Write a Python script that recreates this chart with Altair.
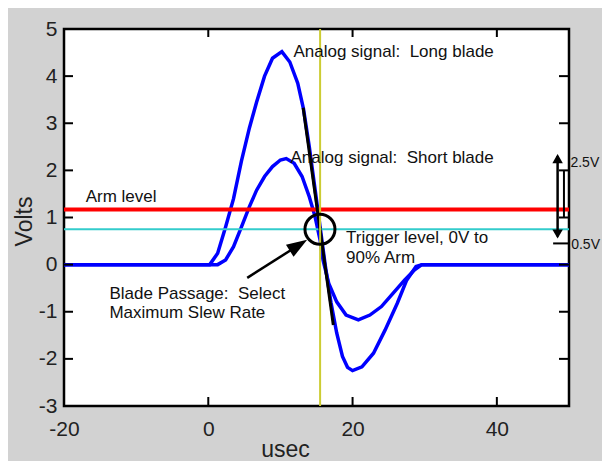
import altair as alt
import pandas as pd

# ---- data ----
long_x = [-20, 0.2, 1.3, 2.4, 3.5, 4.6, 5.7, 6.7, 7.8, 8.9, 10.2, 11.3, 12.4, 13.2, 14.0, 14.8,
          15.5, 16.2, 17.0, 17.8, 18.6, 19.3, 20.0, 21.3, 22.9, 24.5, 26.2, 27.5, 28.8, 29.6, 50]
long_y = [0, 0, 0.24, 0.80, 1.40, 2.20, 2.90, 3.45, 4.00, 4.38, 4.52, 4.30, 3.85, 3.30, 2.50, 1.60,
          0.80, 0.00, -0.80, -1.45, -1.95, -2.18, -2.25, -2.17, -1.88, -1.39, -0.82, -0.33, -0.04, 0, 0]
short_x = [-20, 1.3, 2.4, 3.5, 4.6, 5.7, 6.7, 7.8, 8.9, 10.0, 10.8, 11.9, 13.0, 14.0, 14.8, 15.5,
           15.9, 16.7, 17.8, 19.1, 20.8, 22.4, 24.0, 25.6, 27.2, 28.6, 29.6, 50]
short_y = [0, 0, 0.10, 0.38, 0.80, 1.23, 1.58, 1.87, 2.08, 2.22, 2.25, 2.15, 1.87, 1.44, 1.02, 0.52,
           0.10, -0.40, -0.79, -1.07, -1.17, -1.07, -0.89, -0.61, -0.33, -0.11, 0, 0]

x_ticks = [-20, 0, 20, 40]
y_ticks = [-3, -2, -1, 0, 1, 2, 3, 4, 5]

arm_level = [1.17]
trigger_level = [0.75]
trigger_time = [15.5]

tangent_x = [13.15, 17.33]
tangent_y = [3.33, -1.28]

circle_x = [15.48]
circle_y = [0.75]

arrow_x = [5.4, 12.5]
arrow_y = [-0.28, 0.41]
arrow_head_x = [12.5]
arrow_head_y = [0.41]

labels = ["Analog signal:\u00a0 Long blade", "Analog signal:\u00a0 Short blade", "Arm level",
          "Trigger level, 0V to", "90% Arm", "Blade Passage:\u00a0 Select", "Maximum Slew Rate"]
label_x = [11.8, 11.4, -17.0, 19.1, 19.1, -13.7, -13.7]
label_y = [4.51, 2.27, 1.44, 0.56, 0.13, -0.62, -1.03]

side_labels = ["2.5V", "0.5V"]
side_x = [50.2, 50.3]
side_y = [2.15, 0.42]

span_x = [48.42]
span_top = [2.3]
span_bottom = [0.6]
span_head_y_up = [2.25]
span_head_y_down = [0.65]
bracket_x = [49.3]
bracket_top = [2.0]
bracket_bottom = [1.0]
foot_x = [47.8]
foot_x2 = [49.9]
foot_y = [0.45]

# ---- tables ----
curves = pd.concat([
    pd.DataFrame({"x": long_x, "y": long_y, "s": "long"}),
    pd.DataFrame({"x": short_x, "y": short_y, "s": "short"}),
])

xs = alt.Scale(domain=[-20, 50], nice=False, zero=False)
ys = alt.Scale(domain=[-3, 5], nice=False, zero=False)

FONT = "Liberation Sans"
HYPHEN = "replace(datum.label, '\u2212', '-')"

x_axis = alt.Axis(values=x_ticks, title="usec", labelFontSize=21, labelPadding=12,
                  ticks=False, domain=False, grid=False, labelColor="#222", labelFlush=False,
                  labelExpr=HYPHEN,
                  titleFontSize=23, titleFontWeight="normal", titleColor="#222",
                  titleX=221, titleY=50, titleBaseline="alphabetic", titleAlign="center",
                  labelFont=FONT, titleFont=FONT)
y_axis = alt.Axis(values=y_ticks, title="Volts", labelFontSize=21, labelPadding=7,
                  ticks=False, domain=False, grid=False, labelColor="#222", labelFlush=False,
                  labelExpr=HYPHEN,
                  titleFontSize=23, titleFontWeight="normal", titleColor="#222",
                  titleX=-33, titleY=192, titleBaseline="alphabetic", titleAlign="center",
                  titleAngle=270, labelFont=FONT, titleFont=FONT)


def X(field="x"):
    return alt.X(field + ":Q", scale=xs, axis=x_axis)


def Y(field="y"):
    return alt.Y(field + ":Q", scale=ys, axis=y_axis)


lines = alt.Chart(curves).mark_line(color="#0000ff", strokeWidth=3.5).encode(
    x=X(), y=Y(), detail="s:N")

cyan = alt.Chart(pd.DataFrame({"y": trigger_level})).mark_rule(color="#33cccc", strokeWidth=2).encode(y=Y())
red = alt.Chart(pd.DataFrame({"y": arm_level})).mark_rule(color="#ff0000", strokeWidth=4).encode(y=Y())
yellow = alt.Chart(pd.DataFrame({"x": trigger_time})).mark_rule(color="#cccc33", strokeWidth=2).encode(x=X())

tangent = alt.Chart(pd.DataFrame({"x": tangent_x, "y": tangent_y})).mark_line(
    color="black", strokeWidth=3).encode(x=X(), y=Y())

circle = alt.Chart(pd.DataFrame({"x": circle_x, "y": circle_y})).mark_point(
    shape="circle", filled=False, stroke="black", strokeWidth=3, size=900, opacity=1).encode(x=X(), y=Y())

arrow = alt.Chart(pd.DataFrame({"x": arrow_x, "y": arrow_y})).mark_line(
    color="black", strokeWidth=2.5).encode(x=X(), y=Y())
arrow_head = alt.Chart(pd.DataFrame({"x": arrow_head_x, "y": arrow_head_y})).mark_point(
    shape="M1,0L-1,-0.7L-1,0.7Z", filled=True, color="black", size=420, angle=328, opacity=1).encode(
    x=X(), y=Y())

texts = alt.Chart(pd.DataFrame({"x": label_x, "y": label_y, "l": labels})).mark_text(
    align="left", baseline="middle", fontSize=17, font=FONT, color="#111").encode(
    x=X(), y=Y(), text="l:N")

side_texts = alt.Chart(pd.DataFrame({"x": side_x, "y": side_y, "l": side_labels})).mark_text(
    align="left", baseline="middle", fontSize=14, font=FONT, color="#111").encode(
    x=X(), y=Y(), text="l:N")

span = alt.Chart(pd.DataFrame({"x": span_x, "y": span_top, "y2": span_bottom})).mark_rule(
    color="black", strokeWidth=2.5).encode(x=X(), y=Y(), y2="y2:Q")
span_up = alt.Chart(pd.DataFrame({"x": span_x, "y": span_head_y_up})).mark_point(
    shape="triangle-up", filled=True, color="black", size=110, opacity=1).encode(x=X(), y=Y())
span_down = alt.Chart(pd.DataFrame({"x": span_x, "y": span_head_y_down})).mark_point(
    shape="triangle-down", filled=True, color="black", size=110, opacity=1).encode(x=X(), y=Y())
bracket = alt.Chart(pd.DataFrame({"x": bracket_x, "y": bracket_top, "y2": bracket_bottom})).mark_rule(
    color="black", strokeWidth=2).encode(x=X(), y=Y(), y2="y2:Q")
foot = alt.Chart(pd.DataFrame({"x": foot_x, "x2": foot_x2, "y": foot_y})).mark_rule(
    color="black", strokeWidth=2).encode(x=X(), x2="x2:Q", y=Y())

# inward MATLAB-style ticks on all four sides
xt = pd.DataFrame({"x": x_ticks})
yt = pd.DataFrame({"y": y_ticks})
tick_bottom = alt.Chart(xt).mark_rule(color="black", strokeWidth=2).encode(
    x=X(), y=alt.value(377), y2=alt.value(368))
tick_top = alt.Chart(xt).mark_rule(color="black", strokeWidth=2).encode(
    x=X(), y=alt.value(0), y2=alt.value(8))
tick_left = alt.Chart(yt).mark_rule(color="black", strokeWidth=2).encode(
    y=Y(), x=alt.value(0), x2=alt.value(9))
tick_right = alt.Chart(yt).mark_rule(color="black", strokeWidth=2).encode(
    y=Y(), x=alt.value(505), x2=alt.value(495))

chart = alt.layer(
    lines, cyan, red, tangent, yellow, circle, arrow, arrow_head, texts, side_texts,
    span, span_up, span_down, bracket, foot,
    tick_bottom, tick_top, tick_left, tick_right,
).properties(
    width=505, height=377,
    background="#d2d2d2",
    padding={"left": 56, "top": 21, "right": 33, "bottom": 55},
    autosize=alt.AutoSizeParams(type="none"),
).configure_view(
    stroke="black", strokeWidth=2.5, fill="white"
)

chart.save("out.html", embed_options={"renderer": "svg", "actions": False})
